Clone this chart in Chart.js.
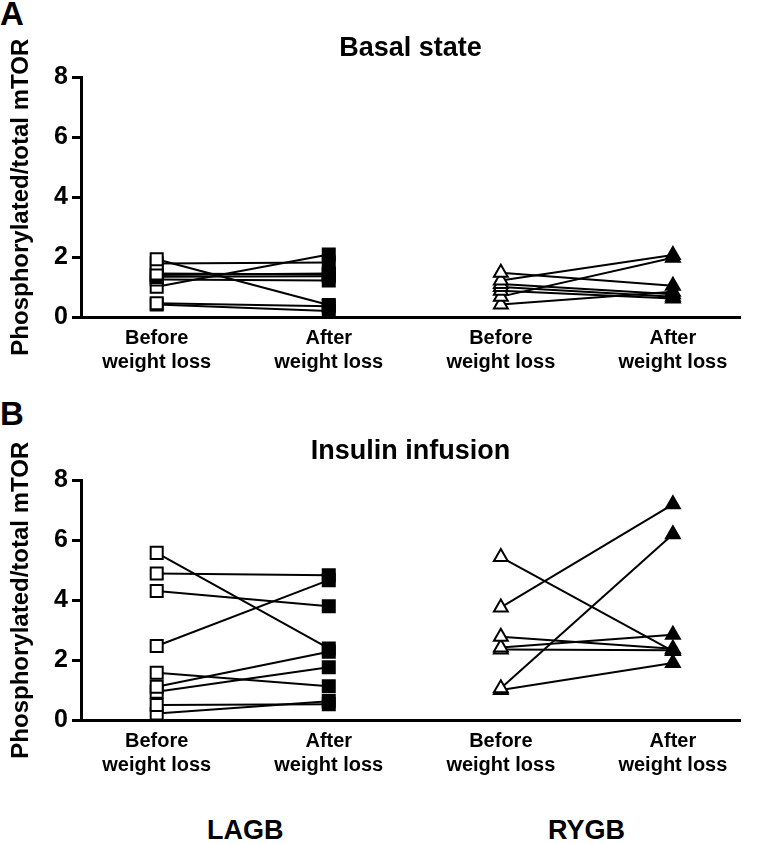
<!DOCTYPE html>
<html>
<head>
<meta charset="utf-8">
<script src="https://cdn.jsdelivr.net/npm/chart.js@4"></script>
<style>
  body { margin: 0; background: #fff; }
  #page { position: relative; width: 762px; height: 844px; font-family: 'Liberation Sans', Arial, sans-serif; }
  .panel { position: absolute; left: 0; width: 762px; height: 390px; }
  .lbl { position: absolute; font-weight: bold; color: #000; line-height: 1; }
</style>
</head>
<body>
<div id="page">
  <div class="lbl" style="left:0;top:-3px;font-size:33px;">A</div>
  <div class="lbl" style="left:0;top:397px;font-size:33px;">B</div>
  <div class="panel" style="top:0"><canvas id="basalChart"></canvas></div>
  <div class="panel" style="top:403px"><canvas id="insulinChart"></canvas></div>
  <div class="lbl" style="left:207px;top:817px;font-size:27px;">LAGB</div>
  <div class="lbl" style="left:548px;top:817px;font-size:27px;">RYGB</div>
</div>
<script>
// x categories (positions 1..4 on the axis)
const categories = [['Before', 'weight loss'], ['After', 'weight loss'], ['Before', 'weight loss'], ['After', 'weight loss']];
const yTicks = [0, 2, 4, 6, 8];

// Basal state, one entry per subject
const lagbBasalBefore = [1.93, 1.79, 1.45, 1.40, 1.34, 1.25, 1.01, 0.46, 0.42];
const lagbBasalAfter  = [0.40, 1.82, 1.42, 1.45, 1.36, 1.22, 2.09, 0.36, 0.20];
const rygbBasalBefore = [1.48, 1.22, 1.10, 1.00, 0.88, 0.68, 0.42];
const rygbBasalAfter  = [1.04, 2.07, 0.76, 0.68, 0.62, 1.98, 0.84];

// Insulin infusion
const lagbInsulinBefore = [5.58, 4.89, 4.31, 2.47, 1.58, 1.11, 0.94, 0.50, 0.22];
const lagbInsulinAfter  = [2.39, 4.83, 3.80, 4.67, 1.13, 2.28, 1.76, 0.53, 0.63];
const rygbInsulinBefore = [5.44, 3.76, 2.78, 2.42, 2.35, 1.06, 1.00];
const rygbInsulinAfter  = [2.30, 7.20, 2.38, 2.85, 2.33, 6.20, 1.90];

const FONT = "'Liberation Sans', Arial, sans-serif";

function pairDatasets(before, after, xBefore, shape, radius) {
    const lines = [];
    const marks = [];
    before.forEach((b, i) => {
        const pts = [{x: xBefore, y: b}, {x: xBefore + 1, y: after[i]}];
        lines.push({
            type: 'line', data: pts, borderColor: '#000', borderWidth: 2,
            pointRadius: 0, order: 2
        });
        marks.push({
            type: 'scatter', data: pts, pointStyle: shape, pointRadius: radius,
            pointBorderColor: '#000', pointBorderWidth: 2,
            pointBackgroundColor: ['#fff', '#000'], order: 1
        });
    });
    return lines.concat(marks);
}

function makeChart(canvasId, title, lagbBefore, lagbAfter, rygbBefore, rygbAfter) {
    const ctx = document.getElementById(canvasId).getContext('2d');
    return new Chart(ctx, {
        data: {
            datasets: pairDatasets(lagbBefore, lagbAfter, 1, 'rect', 8.5)
                .concat(pairDatasets(rygbBefore, rygbAfter, 3, 'triangle', 8))
        },
        options: {
            responsive: true,
            maintainAspectRatio: false,
            animation: false,
            layout: { padding: { left: 0, right: 22, top: 0, bottom: 0 } },
            plugins: {
                legend: { display: false },
                tooltip: { enabled: false },
                title: {
                    display: true, text: title, color: '#000', fullSize: false,
                    font: { family: FONT, size: 27, weight: 'bold', lineHeight: 1.2 },
                    padding: { top: 32, bottom: 13 }
                }
            },
            scales: {
                x: {
                    type: 'linear', min: 0.56, max: 4.39,
                    afterBuildTicks: s => { s.ticks = categories.map((c, i) => ({value: i + 1})); },
                    afterFit: s => { s.height = 73; },
                    grid: { display: false, drawTicks: false },
                    border: { display: true, color: '#000', width: 3 },
                    ticks: {
                        color: '#000', padding: 9, maxRotation: 0, autoSkip: false,
                        font: { family: FONT, size: 20, weight: 'bold', lineHeight: 1.2 },
                        callback: v => categories[Math.round(v) - 1]
                    }
                },
                y: {
                    min: 0, max: 8,
                    afterBuildTicks: s => { s.ticks = yTicks.map(v => ({value: v})); },
                    afterFit: s => { s.width = 81; },
                    grid: { display: true, drawOnChartArea: false, drawTicks: true, tickLength: 9, color: '#000', lineWidth: 3 },
                    border: { display: true, color: '#000', width: 3 },
                    ticks: {
                        color: '#000', padding: 4,
                        font: { family: FONT, size: 25, weight: 'bold' }
                    },
                    title: {
                        display: true, text: 'Phosphorylated/total mTOR', color: '#000',
                        font: { family: FONT, size: 24, weight: 'bold', lineHeight: 1.2 },
                        padding: { top: 7, bottom: 0 }
                    }
                }
            }
        }
    });
}

makeChart('basalChart', 'Basal state', lagbBasalBefore, lagbBasalAfter, rygbBasalBefore, rygbBasalAfter);
makeChart('insulinChart', 'Insulin infusion', lagbInsulinBefore, lagbInsulinAfter, rygbInsulinBefore, rygbInsulinAfter);
</script>
</body>
</html>
